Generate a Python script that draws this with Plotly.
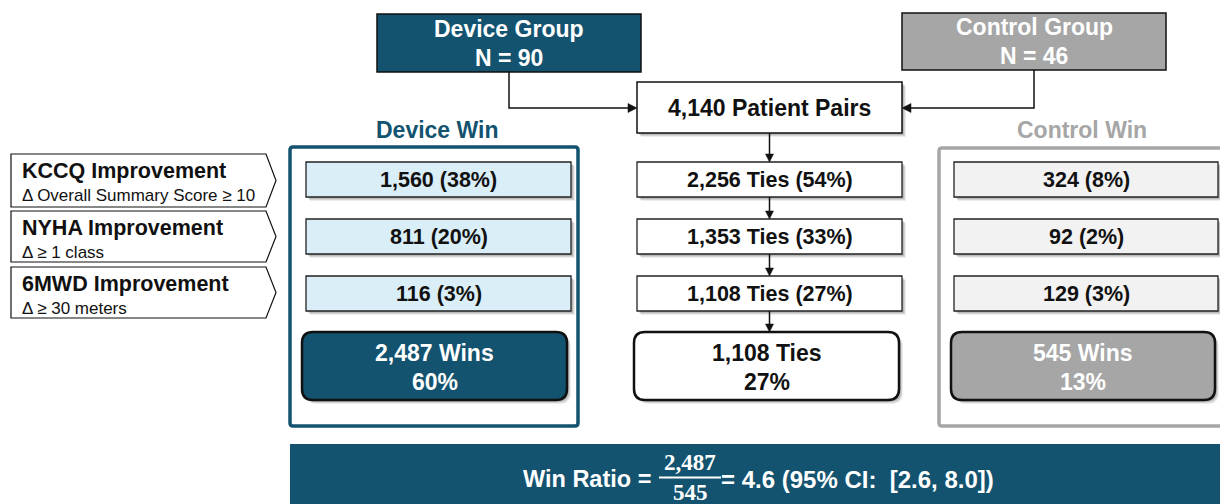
import plotly.graph_objects as go

# ---------------- data ----------------
criteria = ["KCCQ Improvement", "NYHA Improvement", "6MWD Improvement"]
criteria_detail = ["Δ Overall Summary Score ≥ 10", "Δ ≥ 1 class", "Δ ≥ 30 meters"]
device_wins = [1560, 811, 116]
device_pct = [38, 20, 3]
ties = [2256, 1353, 1108]
ties_pct = [54, 33, 27]
control_wins = [324, 92, 129]
control_pct = [8, 2, 3]
device_n = 90
control_n = 46
patient_pairs = 4140
total_device_wins, total_device_pct = 2487, 60
total_ties, total_ties_pct = 1108, 27
total_control_wins, total_control_pct = 545, 13
win_ratio, ci_low, ci_high = 4.6, 2.6, 8.0

# ---------------- style / layout ----------------
W, H = 1220, 504
DARK = "#13536F"
LIGHT_BLUE = "#DAEEF7"
GRAY = "#A6A6A6"
LIGHT_GRAY = "#F2F2F2"
FONT = "Liberation Sans, Arial, sans-serif"
SERIF = "Liberation Serif, DejaVu Serif, serif"

shapes = []
annotations = []


def rrect(x0, y0, x1, y1, r):
    return (f"M{x0+r},{y0} L{x1-r},{y0} Q{x1},{y0} {x1},{y0+r} L{x1},{y1-r} "
            f"Q{x1},{y1} {x1-r},{y1} L{x0+r},{y1} Q{x0},{y1} {x0},{y1-r} "
            f"L{x0},{y0+r} Q{x0},{y0} {x0+r},{y0} Z")


def shadow(x0, y0, x1, y1, r=0):
    for off, a in [(4, 0.07), (3, 0.10), (2, 0.12)]:
        shapes.append(dict(type="path", path=rrect(x0 + off, y0 + off, x1 + off, y1 + off, max(r, 0.01)),
                           fillcolor=f"rgba(0,0,0,{a})", line=dict(width=0), layer="below"))


def box(x0, y0, x1, y1, fill, lw=1.5, lc="#222222", r=0, shade=False):
    if shade:
        shadow(x0, y0, x1, y1, r)
    if r > 0:
        shapes.append(dict(type="path", path=rrect(x0, y0, x1, y1, r), fillcolor=fill,
                           line=dict(color=lc, width=lw), layer="below"))
    else:
        shapes.append(dict(type="rect", x0=x0, y0=y0, x1=x1, y1=y1, fillcolor=fill,
                           line=dict(color=lc, width=lw), layer="below"))


def text(x, y, s, size, color="#111111", bold=True, xanchor="center", family=FONT):
    annotations.append(dict(x=x, y=y, xref="x", yref="y", showarrow=False,
                            text=f"<b>{s}</b>" if bold else s, xanchor=xanchor, yanchor="middle",
                            font=dict(family=family, size=size, color=color)))


def line_path(pts, color="#111111", width=1.5):
    p = "M" + " L".join(f"{x},{y}" for x, y in pts)
    shapes.append(dict(type="path", path=p, line=dict(color=color, width=width), layer="below"))


def tri(pts, color="#111111"):
    p = "M" + " L".join(f"{x},{y}" for x, y in pts) + " Z"
    shapes.append(dict(type="path", path=p, fillcolor=color, line=dict(color=color, width=0.5), layer="below"))


# Group boxes
box(377, 14, 641, 72, DARK, lw=1.5, lc="#111111")
text(509, 29, "Device Group", 23, "white")
text(509, 58, f"N = {device_n}", 23, "white")
box(902, 13, 1166, 70, GRAY, lw=1.5, lc="#111111")
text(1034, 27, "Control Group", 23, "white")
text(1034, 56, f"N = {control_n}", 23, "white")

# Patient pairs
box(637, 82, 902, 133, "white", lw=1.5, lc="#111111", shade=True)
text(769.5, 108, f"{patient_pairs:,} Patient Pairs", 23)

# connectors
line_path([(509, 72), (509, 108), (629, 108)])
tri([(637, 108), (628, 103.5), (628, 112.5)])
line_path([(1034, 70), (1034, 108), (910, 108)])
tri([(902, 108), (911, 103.5), (911, 112.5)])

# Column headers
text(437, 130, "Device Win", 23, DARK)
text(1082, 130, "Control Win", 23, GRAY)

# Frames
shapes.append(dict(type="path", path=rrect(290, 147, 578, 426, 3), fillcolor="rgba(0,0,0,0)",
                   line=dict(color=DARK, width=3.5), layer="below"))
shapes.append(dict(type="path", path=rrect(939, 148, 1240, 426, 3), fillcolor="rgba(0,0,0,0)",
                   line=dict(color=GRAY, width=3.5), layer="below"))

# rows
row_top = [162, 219, 276]
row_h = 35
label_y = [(154, 207), (211, 262), (267, 318)]
for i in range(3):
    y0 = row_top[i]
    y1 = y0 + row_h
    ym = (y0 + y1) / 2
    box(306, y0, 571, y1, LIGHT_BLUE, lw=1.3, shade=True)
    text(438.5, ym, f"{device_wins[i]:,} ({device_pct[i]}%)", 21.5)
    box(637, y0, 902, y1, "white", lw=1.3, shade=True)
    text(769.5, ym, f"{ties[i]:,} Ties ({ties_pct[i]}%)", 21.5)
    box(954, y0, 1218, y1, LIGHT_GRAY, lw=1.3, shade=True)
    text(1086, ym, f"{control_wins[i]:,} ({control_pct[i]}%)", 21.5)

    ly0, ly1 = label_y[i]
    lm = (ly0 + ly1) / 2
    p = f"M11,{ly0} L266,{ly0} L276,{lm} L266,{ly1} L11,{ly1} Z"
    shapes.append(dict(type="path", path=p, fillcolor="white", line=dict(color="#111111", width=1.2),
                       layer="below"))
    text(20, ly0 + 17, criteria[i], 21.5, xanchor="left")
    text(20, ly0 + 41, criteria_detail[i], 17, bold=False, xanchor="left")

# vertical arrows in the ties column
for ya, yb in [(133, 162), (197, 219), (254, 276), (311, 332)]:
    line_path([(769.5, ya), (769.5, yb - 6)])
    tri([(769.5, yb), (765.5, yb - 8), (773.5, yb - 8)])

# totals
box(302, 332, 567, 400, DARK, lw=2.5, lc="#111111", r=11, shade=True)
text(434.5, 353, f"{total_device_wins:,} Wins", 23, "white")
text(434.5, 382, f"{total_device_pct}%", 23, "white")
box(634, 332, 899, 400, "white", lw=2.5, lc="#111111", r=11, shade=True)
text(766.5, 353, f"{total_ties:,} Ties", 23)
text(766.5, 382, f"{total_ties_pct}%", 23)
box(951, 332, 1215, 400, GRAY, lw=2.5, lc="#111111", r=11, shade=True)
text(1083, 353, f"{total_control_wins:,} Wins", 23, "white")
text(1083, 382, f"{total_control_pct}%", 23, "white")

# banner
shapes.append(dict(type="rect", x0=290, y0=444, x1=1225, y1=510, fillcolor=DARK, line=dict(width=0),
                   layer="below"))
text(653, 479, "Win Ratio =", 23.5, "white", xanchor="right")
text(690, 462, f"{total_device_wins:,}", 23, "white", family=SERIF)
text(690, 492, f"{total_control_wins:,}", 23, "white", family=SERIF)
shapes.append(dict(type="line", x0=659, x1=721, y0=477.5, y1=477.5, line=dict(color="white", width=1.8)))
text(719, 479, f"= {win_ratio} (95% CI:  [{ci_low}, {ci_high}])", 24, "white", xanchor="left")

fig = go.Figure()
fig.update_layout(
    width=W, height=H, margin=dict(l=0, r=0, t=0, b=0),
    paper_bgcolor="white", plot_bgcolor="white",
    xaxis=dict(range=[0, W], visible=False, fixedrange=True),
    yaxis=dict(range=[H, 0], visible=False, fixedrange=True),
    shapes=shapes, annotations=annotations, showlegend=False,
)
fig.write_html("out.html", config={"displayModeBar": False},
               post_script="document.body.style.margin='0px';document.body.style.overflow='hidden';")
